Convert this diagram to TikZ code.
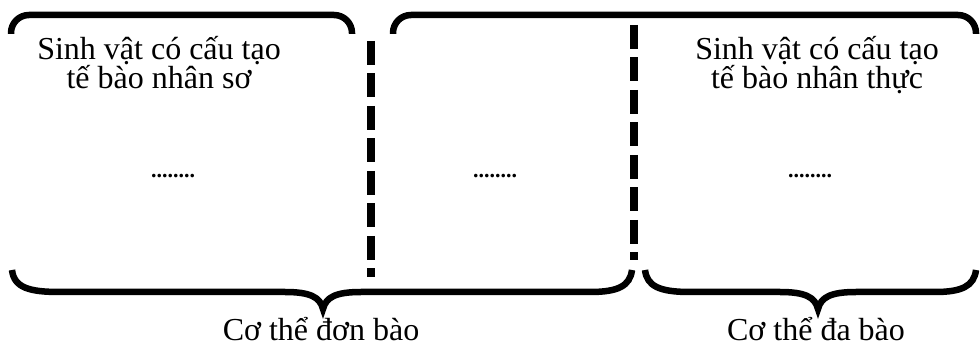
\documentclass[tikz,border=0pt]{standalone}
\usepackage{fontspec}
\setmainfont{Liberation Serif}
\tikzset{
  bracket/.style={line width=6.5pt, line cap=butt},
  divider/.style={line width=8pt, dash pattern=on 24pt off 8.5pt},
  label/.style={inner sep=0pt, anchor=base, align=center, font=\fontsize{32}{29.5}\selectfont},
  filler/.style={inner sep=0pt, anchor=base, font=\bfseries\fontsize{22}{22}\selectfont},
}
\begin{document}
\begin{tikzpicture}[x=1pt, y=-1pt]
\useasboundingbox (0,0) rectangle (980,347);

% top brackets
\draw[bracket, rounded corners=18pt] (11,34) -- (11,15) -- (352,15) -- (352,34);
\draw[bracket, rounded corners=18pt] (393,34) -- (393,15) -- (976,15) -- (976,34);

% dashed dividers
\coordinate (d1a) at (371,41);
\coordinate (d1b) at (371,277);
\coordinate (d2a) at (634,25);
\coordinate (d2b) at (634,260);
\draw[divider] (d1a) -- (d1b);
\draw[divider] (d2a) -- (d2b);

% bottom curly braces
\draw[bracket, line join=miter]
  (12,270) .. controls (14,288) and (30,292) .. (60,292)
  -- (285,292) .. controls (310,292) and (320,297) .. (323,309)
  .. controls (326,297) and (336,292) .. (361,292)
  -- (590,292) .. controls (618,292) and (630,286) .. (632,270);
\draw[bracket, line join=miter]
  (645,270) .. controls (647,286) and (659,292) .. (690,292)
  -- (780,292) .. controls (805,292) and (815,297) .. (818,309)
  .. controls (821,297) and (831,292) .. (856,292)
  -- (935,292) .. controls (962,292) and (974,286) .. (976,270);

% texts (the base anchor of a two-line node sits on its last line)
\node[label] (prok) at (159,89) {Sinh vật có cấu tạo\\tế bào nhân sơ};
\node[label] (euk) at (817,89) {Sinh vật có cấu tạo\\tế bào nhân thực};
\node[filler] (f1) at (173,178) {........};
\node[filler] (f2) at (495,178) {........};
\node[filler] (f3) at (810,178) {........};
\node[label] (uni) at (321,341) {Cơ thể đơn bào};
\node[label] (multi) at (816,341) {Cơ thể đa bào};
\end{tikzpicture}
\end{document}
